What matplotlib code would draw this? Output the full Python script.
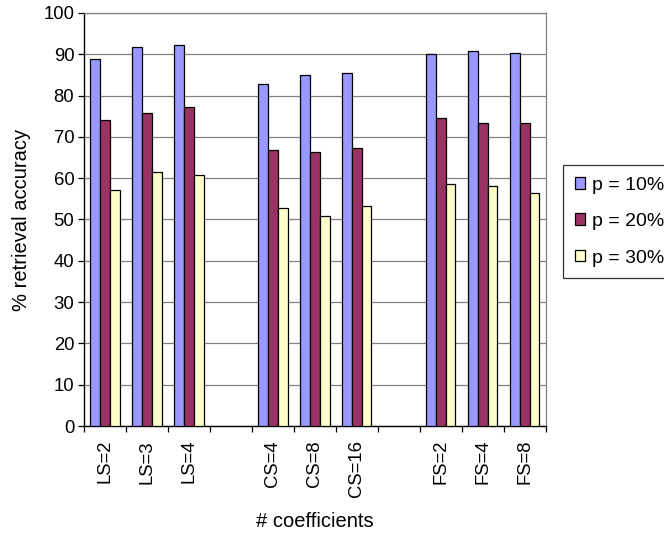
import matplotlib.pyplot as plt
import numpy as np

plt.rcParams["font.family"] = ["Liberation Sans", "DejaVu Sans"]

# blank entries separate the three coefficient families
categories = ["LS=2", "LS=3", "LS=4", "", "CS=4", "CS=8", "CS=16", "", "FS=2", "FS=4", "FS=8"]
series_names = ["p = 10%", "p = 20%", "p = 30%"]
acc_p10 = [88.9, 91.8, 92.3, None, 82.9, 85.0, 85.4, None, 90.0, 90.8, 90.3]
acc_p20 = [74.2, 75.8, 77.2, None, 66.9, 66.3, 67.2, None, 74.6, 73.4, 73.3]
acc_p30 = [57.1, 61.6, 60.8, None, 52.9, 50.8, 53.3, None, 58.6, 58.2, 56.4]

COLORS = ["#9999FF", "#993366", "#FFFFCC"]

fig = plt.figure(figsize=(6.64, 5.33), dpi=100)
ax = fig.add_axes([0.1265, 0.2007, 0.6955, 0.775])

x = np.arange(len(categories))
w = 0.232
for i, (vals, name, color) in enumerate(zip([acc_p10, acc_p20, acc_p30], series_names, COLORS)):
    xs = [xi for xi, v in zip(x, vals) if v is not None]
    ys = [v for v in vals if v is not None]
    ax.bar(np.array(xs) + (i - 1) * w, ys, w, color=color, edgecolor="black",
           linewidth=0.9, label=name, zorder=3)

ax.set_xlim(-0.5, len(categories) - 0.5)
ax.set_ylim(0, 100)
ax.set_yticks(range(0, 101, 10))
ax.yaxis.grid(True, color="#808080", linewidth=0.9, zorder=0)
ax.tick_params(axis="y", direction="out", length=4, width=0.9, labelsize=13.3, pad=3)

# category boundaries carry the tick marks, labels sit at the centres
ax.set_xticks(np.arange(-0.5, len(categories), 1.0))
ax.set_xticklabels([])
ax.tick_params(axis="x", which="major", direction="out", length=4, width=0.9)
ax.set_xticks(x, minor=True)
ax.set_xticklabels(categories, minor=True, rotation=90, fontsize=13.3)
ax.tick_params(axis="x", which="minor", length=0, pad=10)

for side in ["left", "bottom"]:
    ax.spines[side].set_color("black")
    ax.spines[side].set_linewidth(1.0)
for side in ["top", "right"]:
    ax.spines[side].set_color("#808080")
    ax.spines[side].set_linewidth(0.9)

ax.set_ylabel("% retrieval accuracy", fontsize=14.5, labelpad=9)
ax.set_xlabel("# coefficients", fontsize=14.5, labelpad=11)

leg = ax.legend(loc="upper left", bbox_to_anchor=(1.037, 0.632), fontsize=14,
                frameon=True, fancybox=False, edgecolor="black", handlelength=0.55,
                handleheight=0.55, handletextpad=0.35, labelspacing=1.0,
                borderpad=0.6, borderaxespad=0)
leg.get_frame().set_linewidth(0.9)

fig.savefig("out.png", dpi=100)
